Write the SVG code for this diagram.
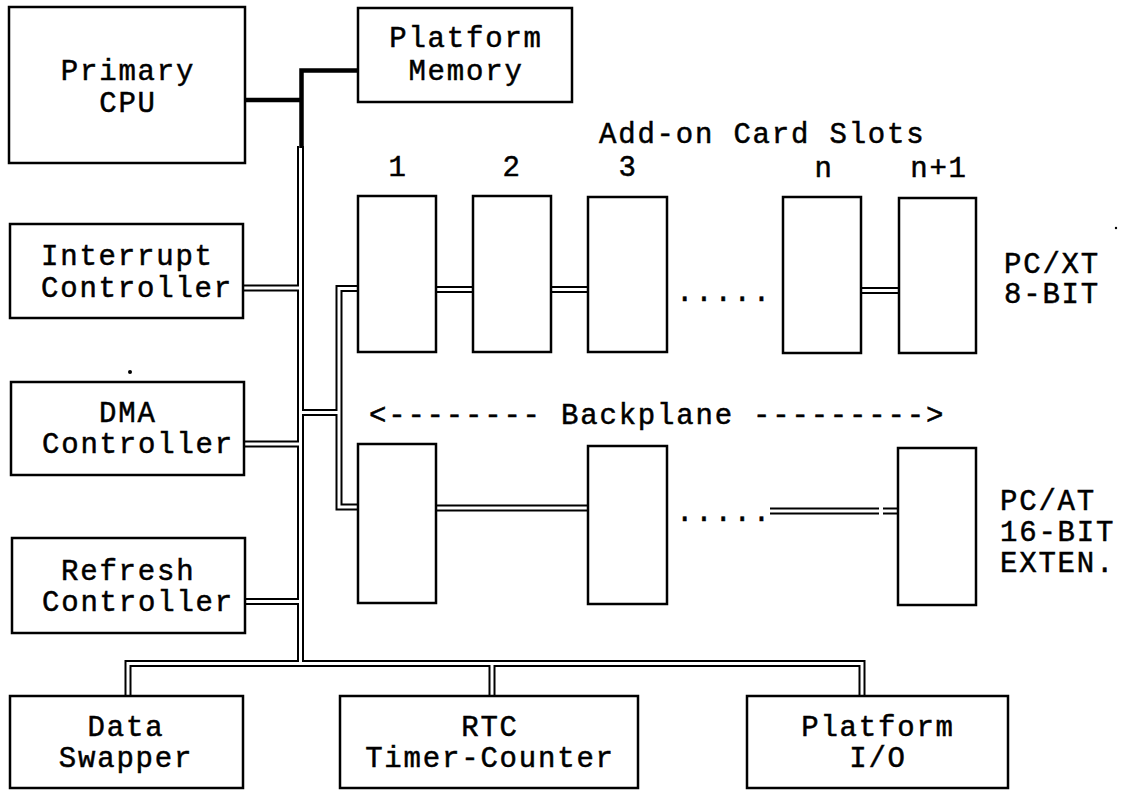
<svg xmlns="http://www.w3.org/2000/svg" xmlns:xlink="http://www.w3.org/1999/xlink" width="1131" height="793" viewBox="0 0 1131 793">
<style>
.box{fill:#fff;stroke:#000;stroke-width:2.5}
.pb{fill:none;stroke:#000;stroke-width:7;stroke-linejoin:miter}
.pw{fill:none;stroke:#fff;stroke-width:3;stroke-linejoin:miter}
.thick{fill:none;stroke:#000;stroke-width:4.5;stroke-linejoin:miter}
text{font-family:"Liberation Mono","Courier New",monospace;font-size:29px;letter-spacing:1.8px;fill:#000;stroke:#000;stroke-width:0.5}
.m{text-anchor:middle}
</style>
<defs>
<path id="bus" d="M300.5 146 V663.5 M240 288 H300.5 M240 444 H300.5 M240 601.5 H300.5 M300.5 412.5 H339 M362 288.5 H339 V507 H362 M432 289.5 H476 M547 289.5 H591 M857 290.5 H902 M432 508 H591 M770 511 H879 M883 511 H902 M128 699 V663.5 H862 V699 M492 663.5 V699"/>
</defs>
<rect width="1131" height="793" fill="#fff"/>
<g id="connectors">
<use xlink:href="#bus" class="pb"/>
<use xlink:href="#bus" class="pw"/>
<path class="thick" d="M360 70.5 H301.5 V148 M244 100 H301.5"/>
</g>
<g id="cpu"><rect class="box" x="9" y="7" width="236" height="156"/><text class="m" x="128" y="80">Primary</text><text class="m" x="128" y="112">CPU</text></g>
<g id="memory"><rect class="box" x="358" y="8" width="214" height="94"/><text class="m" x="466" y="47">Platform</text><text class="m" x="466" y="80">Memory</text></g>
<g id="interrupt"><rect class="box" x="10" y="224" width="233" height="94"/><text x="41" y="265">Interrupt</text><text x="41" y="297">Controller</text></g>
<g id="dma"><rect class="box" x="11" y="382" width="233" height="93"/><text x="99" y="422">DMA</text><text x="42" y="453">Controller</text></g>
<g id="refresh"><rect class="box" x="12" y="538" width="233" height="95"/><text x="61" y="580">Refresh</text><text x="42" y="611">Controller</text></g>
<g id="swapper"><rect class="box" x="10" y="696" width="233" height="92"/><text class="m" x="126" y="736">Data</text><text class="m" x="126" y="767">Swapper</text></g>
<g id="rtc"><rect class="box" x="340" y="696" width="298" height="92"/><text class="m" x="490" y="736">RTC</text><text class="m" x="490" y="767">Timer-Counter</text></g>
<g id="pio"><rect class="box" x="747" y="696" width="261" height="92"/><text class="m" x="878" y="736">Platform</text><text class="m" x="878" y="767">I/O</text></g>
<g id="slots-title"><text x="599" y="143">Add-on Card Slots</text>
<text class="m" x="398" y="176">1</text><text class="m" x="512" y="176">2</text><text class="m" x="628" y="176">3</text><text class="m" x="824" y="177">n</text><text class="m" x="939" y="177">n+1</text></g>
<g id="slot1"><rect class="box" x="358" y="196" width="78" height="156"/></g>
<g id="slot2"><rect class="box" x="473" y="196" width="78" height="156"/></g>
<g id="slot3"><rect class="box" x="588" y="197" width="79" height="155"/></g>
<g id="slotn"><rect class="box" x="783" y="197" width="78" height="156"/></g>
<g id="slotn1"><rect class="box" x="899" y="198" width="77" height="155"/></g>
<g id="slot1b"><rect class="box" x="358" y="444" width="78" height="159"/></g>
<g id="slot3b"><rect class="box" x="588" y="446" width="79" height="158"/></g>
<g id="slotn1b"><rect class="box" x="898" y="448" width="78" height="157"/></g>
<g id="labels">
<text x="676" y="301">.....</text>
<text x="676" y="521">.....</text>
<text x="369" y="424">&lt;-------- Backplane ---------&gt;</text>
<text x="1004" y="273">PC/XT</text><text x="1004" y="303">8-BIT</text>
<text x="1000" y="510">PC/AT</text><text x="1000" y="541">16-BIT</text><text x="1000" y="572">EXTEN.</text>
</g>
<circle cx="130" cy="372" r="2" fill="#000"/>
<circle cx="1116" cy="228" r="1.2" fill="#000"/>
</svg>
